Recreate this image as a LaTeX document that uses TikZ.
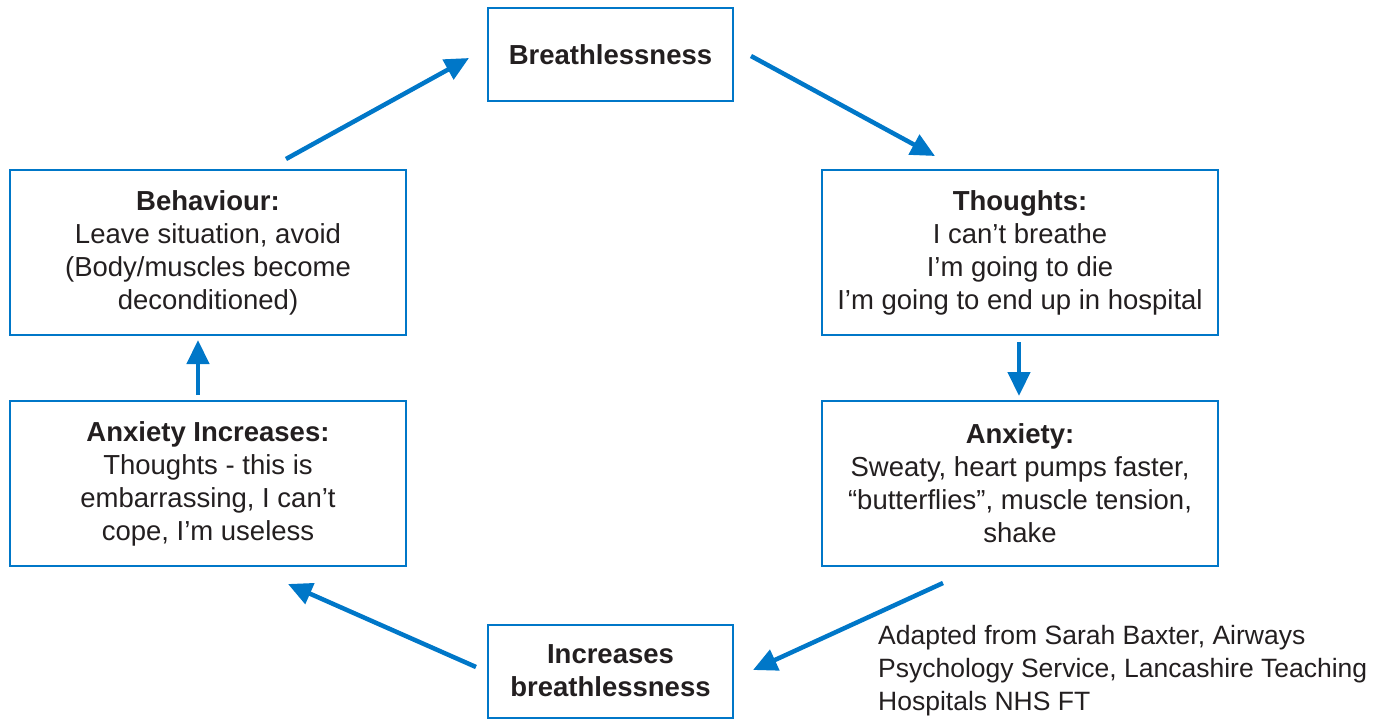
\documentclass[tikz,border=0pt]{standalone}
\usepackage{fontspec}
\setmainfont{Liberation Sans}
\usetikzlibrary{arrows.meta}
\definecolor{cblue}{HTML}{0077C8}
\definecolor{ctext}{HTML}{231F20}
\begin{document}
\begin{tikzpicture}[x=1pt,y=-1pt,
  box/.style={draw=cblue,line width=2pt,inner sep=0pt,align=center,text=ctext,
    font=\fontsize{27.5}{33}\selectfont},
  smallbox/.style={box,minimum width=245pt,minimum height=93pt},
  bigbox/.style={box,minimum width=396pt,minimum height=165pt},
  arr/.style={draw=cblue,line width=4.5pt,-{Triangle[length=24pt,width=22pt]}}]
\useasboundingbox (0,0) rectangle (1382,718);
\node[smallbox] (br) at (610.5,54.5) {\textbf{Breathlessness}};
\node[bigbox] (th) at (1020,252.5) {\textbf{Thoughts:}\\I can’t breathe\\I’m going to die\\I’m going to end up in hospital};
\node[bigbox] (ax) at (1020,483.5) {\textbf{Anxiety:}\\Sweaty, heart pumps faster,\\“butterflies”, muscle tension,\\shake};
\node[smallbox] (inc) at (610.5,671) {\textbf{Increases}\\\textbf{breathlessness}};
\node[bigbox] (ai) at (208,483.5) {\textbf{Anxiety Increases:}\\Thoughts - this is\\embarrassing, I can’t\\cope, I’m useless};
\node[bigbox] (be) at (208,252.5) {\textbf{Behaviour:}\\Leave situation, avoid\\(Body/muscles become\\deconditioned)};
\node[anchor=north west,inner sep=0pt,align=left,text=ctext,font=\fontsize{26.5}{33}\selectfont] (src) at (878,625) {Adapted from Sarah Baxter, Airways\\Psychology Service, Lancashire Teaching\\Hospitals NHS FT};
\draw[arr] ([xshift=78pt,yshift=10pt]be.north) -- ([xshift=-18pt,yshift=-3.5pt]br.west);
\draw[arr] ([xshift=17pt,yshift=-1.5pt]br.east) -- ([xshift=-85pt,yshift=13pt]th.north);
\draw[arr] ([xshift=-1pt,yshift=-6pt]th.south) -- ([xshift=-1pt,yshift=4pt]ax.north);
\draw[arr] ([xshift=-77pt,yshift=-16pt]ax.south) -- ([xshift=19pt,yshift=1pt]inc.east);
\draw[arr] ([xshift=-11pt,yshift=4pt]inc.west) -- ([xshift=80pt,yshift=-17pt]ai.south);
\draw[arr] ([xshift=-10pt,yshift=5pt]ai.north) -- ([xshift=-10pt,yshift=-4pt]be.south);
\end{tikzpicture}
\end{document}
